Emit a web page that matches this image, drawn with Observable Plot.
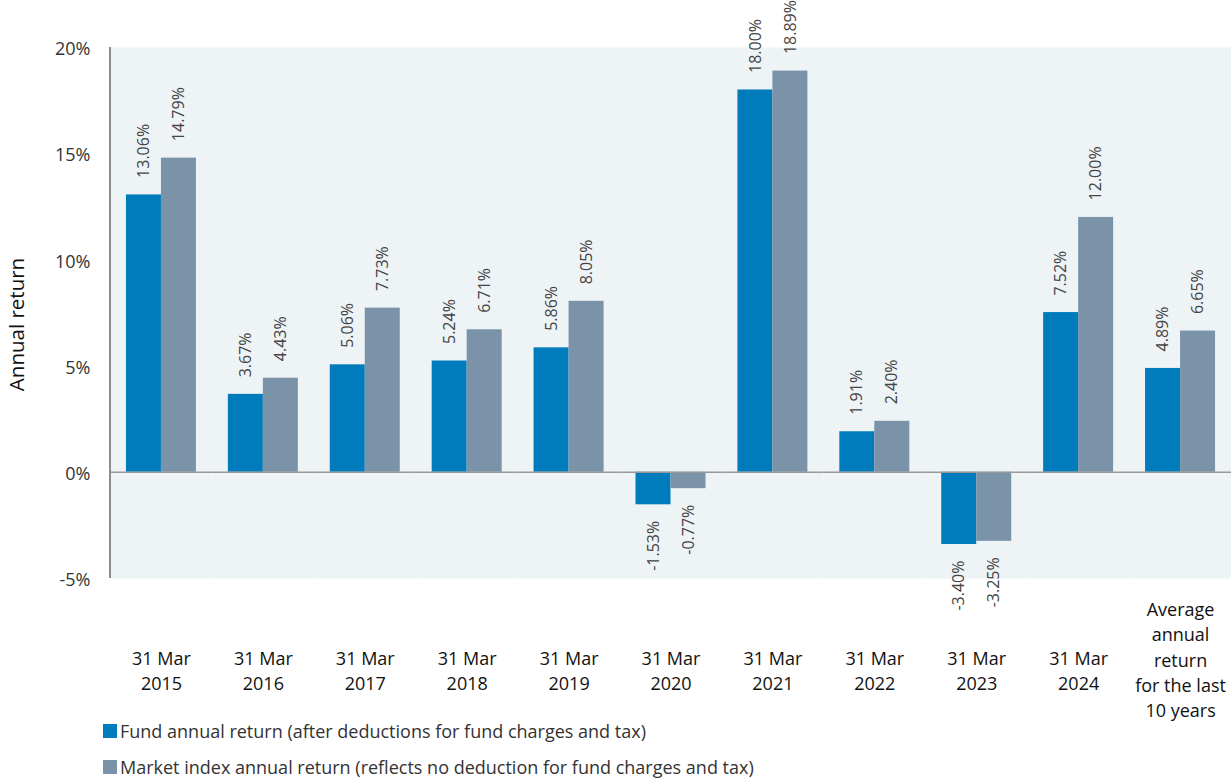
<!DOCTYPE html>
<html>
<head>
<meta charset="utf-8">
<script src="https://cdn.jsdelivr.net/npm/d3@7"></script>
<script src="https://cdn.jsdelivr.net/npm/@observablehq/plot@0.6"></script>
<style>
  body { margin: 0; background: #fff; font-family: "Open Sans", "Noto Sans", sans-serif; }
  #chart svg { display: block; }
  .legend { position: relative; height: 56px; font-size: 18px; color: #333; }
  .legend .row { position: absolute; left: 103px; display: flex; align-items: center; line-height: 20px; height: 20px; }
  .legend .sw { width: 14px; height: 14px; margin-right: 3px; }
</style>
</head>
<body>
<div id="chart"></div>
<div class="legend" id="legend"></div>
<script>
const categories = [
  "31 Mar\n2015", "31 Mar\n2016", "31 Mar\n2017", "31 Mar\n2018", "31 Mar\n2019",
  "31 Mar\n2020", "31 Mar\n2021", "31 Mar\n2022", "31 Mar\n2023", "31 Mar\n2024",
  "Average\nannual\nreturn\nfor the last\n10 years"
];
const fundValues  = [13.06, 3.67, 5.06, 5.24, 5.86, -1.53, 18.00, 1.91, -3.40, 7.52, 4.89];
const indexValues = [14.79, 4.43, 7.73, 6.71, 8.05, -0.77, 18.89, 2.40, -3.25, 12.00, 6.65];
const seriesKeys = ["fund", "index"];
const seriesNames = [
  "Fund annual return (after deductions for fund charges and tax)",
  "Market index annual return (reflects no deduction for fund charges and tax)"
];
const seriesColors = ["#007bbb", "#7a93a8"];
const yTicks = [-5, 0, 5, 10, 15, 20];

const data = [];
categories.forEach((c, i) => {
  data.push({cat: c, series: "fund", value: fundValues[i]});
  data.push({cat: c, series: "index", value: indexValues[i]});
});
const fmt = v => v.toFixed(2) + "%";
const avgCat = categories[categories.length - 1];

const W = 1231, H = 722, ML = 110, MT = 47, MB = 144;

const chart = Plot.plot({
  width: W,
  height: H,
  marginLeft: ML,
  marginRight: 0,
  marginTop: MT,
  marginBottom: MB,
  style: {fontFamily: "'Open Sans', 'Noto Sans', sans-serif", background: "#fff", overflow: "visible"},
  fx: {domain: categories, padding: 0, round: false, axis: null},
  x: {domain: seriesKeys, paddingInner: 0, paddingOuter: 0.456, round: false, axis: null},
  y: {domain: [-5, 20], axis: null},
  color: {domain: seriesKeys, range: seriesColors},
  marks: [
    Plot.frame({fill: "#eef3f6", stroke: "none"}),
    Plot.barY(data, {fx: "cat", x: "series", y: "value", fill: "series"}),
    Plot.ruleY([0], {stroke: "#999", strokeWidth: 1.5}),
    Plot.axisY({ticks: yTicks, tickSize: 0, tickPadding: 20, tickFormat: d => d + "%", fontSize: 18, fill: "#333", dy: 2, label: null}),
    Plot.text(data.filter(d => d.value >= 0), {fx: "cat", x: "series", y: "value", text: d => fmt(d.value), rotate: -90, textAnchor: "start", dy: -17, fontSize: 16, fill: "#444"}),
    Plot.text(data.filter(d => d.value < 0), {fx: "cat", x: "series", y: "value", text: d => fmt(d.value), rotate: -90, textAnchor: "end", dy: 16, fontSize: 16, fill: "#444"}),
    Plot.text(categories.filter(c => c !== avgCat), {fx: d => d, text: d => d, frameAnchor: "bottom", lineAnchor: "middle", dy: 91, fontSize: 18, lineHeight: 1.4, fill: "#111"}),
    Plot.text([avgCat], {fx: d => d, text: d => d, frameAnchor: "bottom", lineAnchor: "middle", dy: 80, fontSize: 18, lineHeight: 1.4, fill: "#111"})
  ]
});
document.getElementById("chart").appendChild(chart);

const svg = d3.select(chart);
// Left axis line, placed with the plot's own scales
const fxScale = chart.scale("fx");
const yScale = chart.scale("y");
const x0 = fxScale.apply(categories[0]);
svg.append("line")
  .attr("x1", x0).attr("x2", x0)
  .attr("y1", yScale.apply(20)).attr("y2", yScale.apply(-5))
  .attr("stroke", "#8c8c8c").attr("stroke-width", 2);

// Y axis title
svg.append("text")
  .attr("transform", `translate(24,${(yScale.apply(20) + yScale.apply(-5)) / 2 + 12}) rotate(-90)`)
  .attr("text-anchor", "middle")
  .attr("font-size", 20.5)
  .attr("fill", "#111")
  .text("Annual return");

const legend = d3.select("#legend");
seriesNames.forEach((name, i) => {
  const row = legend.append("div").attr("class", "row").style("top", (i === 0 ? -1 : 35) + "px");
  row.append("div").attr("class", "sw").style("background", seriesColors[i]);
  row.append("span").text(name);
});
</script>
</body>
</html>
